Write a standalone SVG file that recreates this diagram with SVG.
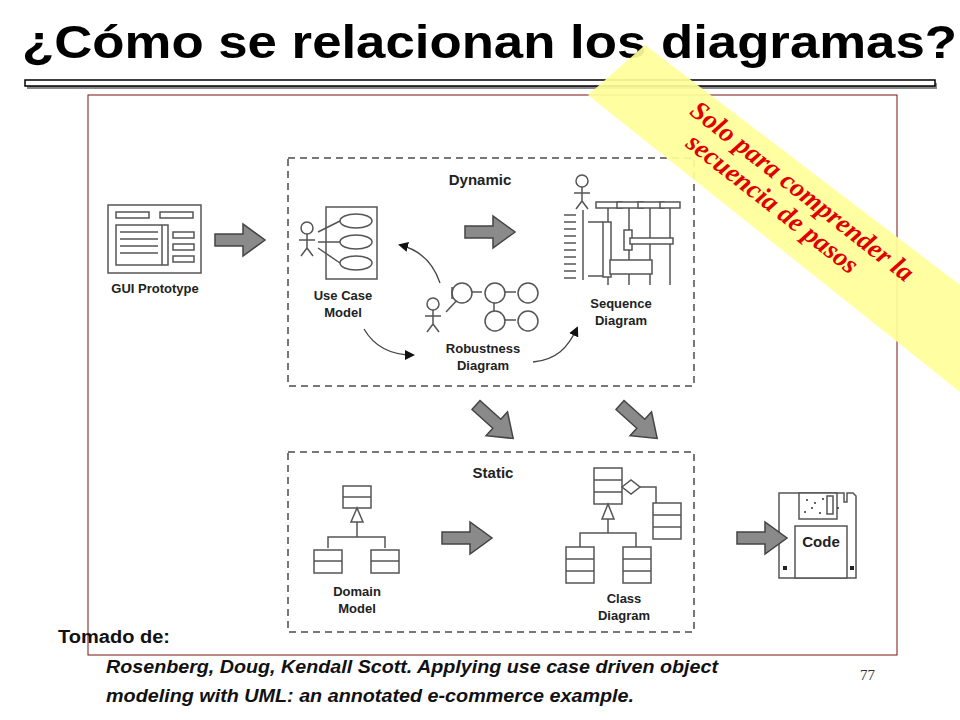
<svg xmlns="http://www.w3.org/2000/svg" width="960" height="720" viewBox="0 0 960 720">
<defs>
<style>
.t{font-family:"Liberation Sans",Arial,sans-serif;font-weight:bold;fill:#222}
.l{fill:none;stroke:#555;stroke-width:1.5}
.w{fill:#fff;stroke:#555;stroke-width:1.5}
.dash{fill:none;stroke:#777;stroke-width:2;stroke-dasharray:7,5}
.big{fill:#8a8a8a;stroke:#444;stroke-width:1.5}
</style>
<marker id="ah" markerWidth="10" markerHeight="10" refX="8" refY="5" orient="auto" markerUnits="userSpaceOnUse"><path d="M0,0 L10,5 L0,10 z" fill="#111"/></marker>
<g id="fat"><path d="M0,-6 H28 V-16 L50,0 L28,16 V6 H0 z" class="big"/></g>
<g id="stick"><circle cx="0" cy="-12" r="6" class="l"/><path d="M0,-6 V8 M-8,0 H8 M0,8 L-6,16 M0,8 L6,16" class="l"/></g>
</defs>
<rect width="960" height="720" fill="#fff"/>
<text x="22" y="58" font-family="Liberation Sans,Arial,sans-serif" font-weight="bold" font-size="47" fill="#000" textLength="935" lengthAdjust="spacingAndGlyphs">¿Cómo se relacionan los diagramas?</text>
<rect x="27" y="83" width="910" height="6" fill="#888"/>
<rect x="25" y="80" width="910" height="6" fill="#fff" stroke="#000" stroke-width="1.5"/>
<rect x="88" y="95" width="809" height="560" fill="none" stroke="#7a1010" stroke-width="1"/>

<g id="gui">
<rect x="108" y="205" width="93" height="68" class="w"/>
<rect x="116" y="212" width="33" height="6" class="w"/><rect x="160" y="212" width="33" height="6" class="w"/>
<rect x="116" y="225" width="52" height="40" class="w"/><path d="M162,225 V265 M120,232 H158 M120,239 H158 M120,246 H158 M120,253 H158" class="l"/>
<rect x="173" y="232" width="21" height="6" class="w"/><rect x="173" y="244" width="21" height="6" class="w"/><rect x="173" y="256" width="21" height="6" class="w"/>
<text x="155" y="293" text-anchor="middle" font-size="13" class="t">GUI Prototype</text>
</g>
<g id="dynamic">
<rect x="288" y="158" width="406" height="228" class="dash"/>
<text x="480" y="185" text-anchor="middle" font-size="15" class="t">Dynamic</text>
</g>
<g id="usecase">
<use href="#stick" x="307" y="240"/>
<rect x="326" y="207" width="51" height="72" class="w"/>
<ellipse cx="356" cy="221" rx="16" ry="7" class="l"/><ellipse cx="356" cy="242" rx="16" ry="7" class="l"/><ellipse cx="356" cy="263" rx="16" ry="7" class="l"/>
<path d="M318,232 L340,221 M318,242 L340,242 M318,248 L340,263" class="l"/>
<text x="343" y="300" text-anchor="middle" font-size="13" class="t">Use Case</text>
<text x="343" y="317" text-anchor="middle" font-size="13" class="t">Model</text>
</g>
<g id="robust">
<use href="#stick" x="433" y="316"/>
<path d="M446,312 L460,297 M463,292 H482 M497,292 H516 M494,300 V312 M497,320 H516" class="l"/>
<circle cx="462" cy="293" r="10" class="w"/><circle cx="495" cy="293" r="10" class="w"/><circle cx="528" cy="293" r="10" class="w"/>
<circle cx="495" cy="321" r="10" class="w"/><circle cx="528" cy="321" r="10" class="w"/>
<path d="M452,287 V299" class="l"/>
<text x="483" y="353" text-anchor="middle" font-size="13" class="t">Robustness</text>
<text x="483" y="370" text-anchor="middle" font-size="13" class="t">Diagram</text>
</g>
<g id="sequence">
<use href="#stick" x="582" y="193"/>
<rect x="596" y="202" width="26" height="6" class="w"/><rect x="617" y="202" width="26" height="6" class="w"/><rect x="638" y="202" width="26" height="6" class="w"/><rect x="660" y="202" width="20" height="6" class="w"/>
<path d="M583,210 V280 M608,208 V285 M629,208 V285 M650,208 V285 M670,208 V285" class="l"/>
<path d="M564,215 H576 M564,222 H576 M564,229 H576 M564,236 H576 M564,243 H576 M564,250 H576 M564,257 H576 M564,264 H576 M564,271 H576 M564,278 H576" class="l"/>
<rect x="603" y="222" width="8" height="55" class="w"/><rect x="624" y="230" width="8" height="20" class="w"/><rect x="630" y="238" width="43" height="6" class="w"/><rect x="610" y="260" width="42" height="14" class="w"/>
<path d="M588,222 H603 M588,276 H603" class="l"/>
<text x="621" y="308" text-anchor="middle" font-size="13" class="t">Sequence</text>
<text x="621" y="325" text-anchor="middle" font-size="13" class="t">Diagram</text>
</g>
<g id="static">
<rect x="288" y="452" width="406" height="180" class="dash"/>
<text x="493" y="478" text-anchor="middle" font-size="15" class="t">Static</text>
</g>
<g id="domain">
<rect x="343" y="486" width="28" height="22" class="w"/><path d="M343,497 H371" class="l"/>
<path d="M357,508 L351,522 H363 z" class="w"/><path d="M357,522 V537 M328,548 V537 H385 V548" class="l"/>
<rect x="314" y="550" width="28" height="23" class="w"/><path d="M314,561 H342" class="l"/>
<rect x="371" y="550" width="28" height="23" class="w"/><path d="M371,561 H399" class="l"/>
<text x="357" y="596" text-anchor="middle" font-size="13" class="t">Domain</text>
<text x="357" y="613" text-anchor="middle" font-size="13" class="t">Model</text>
</g>
<g id="class">
<rect x="594" y="468" width="28" height="36" class="w"/><path d="M594,480 H622 M594,492 H622" class="l"/>
<path d="M622,487 L631,480 L640,487 L631,494 z" class="w"/><path d="M640,487 H656 V503" class="l"/>
<rect x="653" y="503" width="28" height="36" class="w"/><path d="M653,515 H681 M653,527 H681" class="l"/>
<path d="M608,504 L602,519 H614 z" class="w"/><path d="M608,519 V533 M580,547 V533 H636 V547" class="l"/>
<rect x="566" y="547" width="28" height="36" class="w"/><path d="M566,559 H594 M566,571 H594" class="l"/>
<rect x="623" y="547" width="28" height="36" class="w"/><path d="M623,559 H651 M623,571 H651" class="l"/>
<text x="624" y="603" text-anchor="middle" font-size="13" class="t">Class</text>
<text x="624" y="620" text-anchor="middle" font-size="13" class="t">Diagram</text>
</g>
<g id="code">
<path d="M779,493 H844 V502 H847 V493 H853 L856,496 V578 H779 z" class="w"/>
<rect x="799" y="493" width="38" height="26" class="w"/>
<path d="M827,496 V514 H833 V496 z" class="l"/>
<g fill="#333"><circle cx="807" cy="500" r="1"/><circle cx="815" cy="503" r="1"/><circle cx="823" cy="499" r="1"/><circle cx="805" cy="512" r="1"/><circle cx="812" cy="508" r="1"/><circle cx="820" cy="513" r="1"/><circle cx="838" cy="508" r="1"/></g>
<rect x="795" y="526" width="52" height="52" class="w"/>
<rect x="783" y="566" width="4" height="4" fill="#222"/><rect x="850" y="566" width="4" height="4" fill="#222"/>
<text x="821" y="547" text-anchor="middle" font-size="15" class="t">Code</text>
</g>
<g id="connectors">
<use href="#fat" x="215" y="240"/>
<use href="#fat" x="465" y="232"/>
<use href="#fat" x="442" y="538"/>
<use href="#fat" x="737" y="538"/>
<use href="#fat" transform="translate(476,405) rotate(42)"/>
<use href="#fat" transform="translate(620,405) rotate(42)"/>
<path d="M440,283 C433,262 420,250 400,245" fill="none" stroke="#444" stroke-width="1.3" marker-end="url(#ah)"/>
<path d="M364,329 C375,348 392,355 413,355" fill="none" stroke="#444" stroke-width="1.3" marker-end="url(#ah)"/>
<path d="M533,362 C556,360 568,348 577,328" fill="none" stroke="#444" stroke-width="1.3" marker-end="url(#ah)"/>
</g>
<g id="note">
<polygon points="645,45 960,285 960,392 588,95" fill="#ffff99" opacity="0.92"/>
<g transform="translate(787,198) rotate(38)" font-family="Liberation Serif,Times New Roman,serif" font-weight="bold" font-style="italic" font-size="27" fill="#e00000" text-anchor="middle">
<text x="8" y="-6">Solo para comprender la</text>
<text x="-8" y="22">secuencia de pasos</text>
</g>
</g>
<g font-family="Liberation Sans,Arial,sans-serif" font-weight="bold" font-size="18" fill="#111">
<text x="58" y="643" textLength="112" lengthAdjust="spacingAndGlyphs">Tomado de:</text>
<text x="106" y="673" font-style="italic" textLength="612" lengthAdjust="spacingAndGlyphs">Rosenberg, Doug, Kendall Scott. Applying use case driven object</text>
<text x="106" y="702" font-style="italic" textLength="528" lengthAdjust="spacingAndGlyphs">modeling with UML: an annotated e-commerce example.</text>
</g>
<text x="860" y="680" font-family="Liberation Serif,serif" font-size="15" fill="#333">77</text>
</svg>
